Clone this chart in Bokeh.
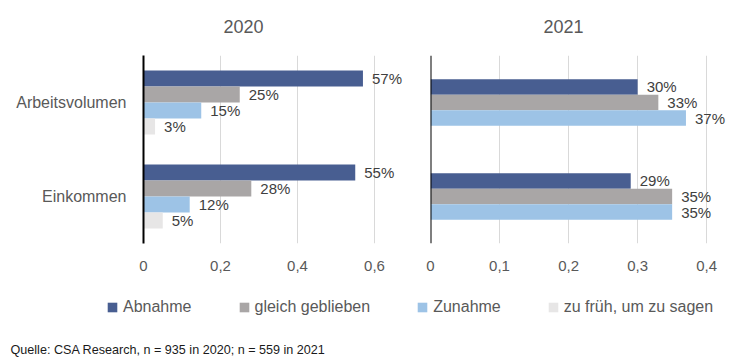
from bokeh.plotting import figure
from bokeh.models import (FactorRange, Range1d, FixedTicker, Legend, LegendItem,
                          Label, ColumnDataSource, Span)
from bokeh.transform import dodge
from bokeh.layouts import column, row
from bokeh.core.properties import value
from bokeh.embed import file_html
from bokeh.resources import INLINE

# ---------------- data ----------------
categories = ["Arbeitsvolumen", "Einkommen"]
series = ["Abnahme", "gleich geblieben", "Zunahme", "zu früh, um zu sagen"]
panel_titles = ["2020", "2021"]

v2020_abnahme = [0.57, 0.55]
v2020_gleich = [0.25, 0.28]
v2020_zunahme = [0.15, 0.12]
v2020_zu_frueh = [0.03, 0.05]

v2021_abnahme = [0.30, 0.29]
v2021_gleich = [0.33, 0.35]
v2021_zunahme = [0.37, 0.35]

ticks_2020 = [0, 0.2, 0.4, 0.6]
ticks_2021 = [0, 0.1, 0.2, 0.3, 0.4]

source_note = "Quelle: CSA Research, n = 935 in 2020; n = 559 in 2021"

# ---------------- styles ----------------
colors = ["#485E91", "#A9A6A6", "#9DC3E6", "#E7E6E6"]
FONT = "Liberation Sans"
GRAY = "#595959"


def tick_label(t):
    return ("%g" % t).replace(".", ",")


def strip(width, height):
    f = figure(width=width, height=height, x_range=Range1d(0, width),
               y_range=Range1d(height, 0), output_backend="svg", toolbar_location=None,
               min_border_left=0, min_border_right=0, min_border_top=0,
               min_border_bottom=0)
    f.axis.visible = False
    f.grid.visible = False
    f.outline_line_color = None
    return f


def panel(vals, names, bar_h, x_end, ticks, width, min_left, show_ylabels):
    p = figure(width=width, height=240,
               y_range=FactorRange(factors=list(reversed(categories))),
               x_range=Range1d(0, x_end),
               output_backend="svg", toolbar_location=None,
               min_border_left=min_left, min_border_right=0,
               min_border_top=15, min_border_bottom=37)
    p.outline_line_color = None
    p.background_fill_color = "white"
    p.border_fill_color = "white"

    n = len(vals)
    for i, (v, nm, c) in enumerate(zip(vals, names, colors)):
        off = ((n - 1) / 2 - i) * bar_h
        src = ColumnDataSource(dict(cat=categories, val=v,
                                    lab=["%d%%" % round(x * 100) for x in v]))
        p.hbar(y=dodge("cat", off, range=p.y_range), left=0, right="val",
               height=bar_h, source=src, fill_color=c, line_color=None)
        p.text(x="val", y=dodge("cat", off, range=p.y_range), text="lab", source=src,
               x_offset=9, text_align="left", text_baseline="middle",
               text_font=value(FONT), text_font_size="15px", text_color="#404040")

    # x axis
    p.xaxis.ticker = FixedTicker(ticks=ticks)
    p.xaxis.major_label_overrides = {t: tick_label(t) for t in ticks}
    p.xaxis.axis_line_color = None
    p.xaxis.major_tick_line_color = None
    p.xaxis.minor_tick_line_color = None
    p.xaxis.major_tick_out = 0
    p.xaxis.major_label_standoff = 17
    p.xaxis.major_label_text_font = FONT
    p.xaxis.major_label_text_font_size = "15px"
    p.xaxis.major_label_text_color = GRAY

    # y axis
    if show_ylabels:
        p.yaxis.axis_line_color = "black"
        p.yaxis.axis_line_width = 2
        p.yaxis.major_tick_line_color = None
        p.yaxis.minor_tick_line_color = None
        p.yaxis.major_tick_out = 0
        p.yaxis.major_label_standoff = 17
        p.yaxis.major_label_text_font = FONT
        p.yaxis.major_label_text_font_size = "16px"
        p.yaxis.major_label_text_color = GRAY
    else:
        p.yaxis.visible = False
        p.add_layout(Span(location=0, dimension="height", line_color="black",
                          line_width=2))

    # grid
    p.xgrid.ticker = FixedTicker(ticks=ticks[1:])
    p.xgrid.grid_line_color = "#D9D9D9"
    p.xgrid.grid_line_width = 1
    p.ygrid.grid_line_color = None
    return p


# ---------------- panel titles ----------------
p0 = strip(740, 40)
for t, cx in zip(panel_titles, [243, 563]):
    p0.add_layout(Label(x=cx, y=26, text=t, text_font=FONT, text_font_size="18px",
                        text_color=GRAY, text_align="center", text_baseline="middle"))

p1 = panel([v2020_abnahme, v2020_gleich, v2020_zunahme, v2020_zu_frueh],
           series, 0.17, 0.7065, ticks_2020, 415, 143, True)
p2 = panel([v2021_abnahme, v2021_gleich, v2021_zunahme],
           series[:3], 0.165, 0.449, ticks_2021, 325, 15, False)

# ---------------- legend + source ----------------
p3 = strip(740, 79)

items = []
for nm, c in zip(series, colors):
    # zero-size key renderer: only provides the legend swatch
    r = p3.hbar(y=[0], left=[0], right=[0], height=0, fill_color=c, line_color=None)
    items.append(LegendItem(label=nm, renderers=[r]))

legend = Legend(items=items, orientation="horizontal", location=(106, 42),
                glyph_width=12, glyph_height=12, label_standoff=5, spacing=46,
                padding=0, margin=0, border_line_color=None, background_fill_alpha=0,
                label_text_font=FONT, label_text_font_size="16px",
                label_text_color=GRAY, label_height=20)
p3.add_layout(legend, "center")

p3.add_layout(Label(x=10, y=69, text=source_note, text_font=FONT,
                    text_font_size="12.6px", text_color="#1a1a1a",
                    text_baseline="middle", text_align="left"))

layout = column(p0, row(p1, p2, spacing=0), p3, spacing=0)

open("out.html", "w").write(file_html(layout, INLINE))
